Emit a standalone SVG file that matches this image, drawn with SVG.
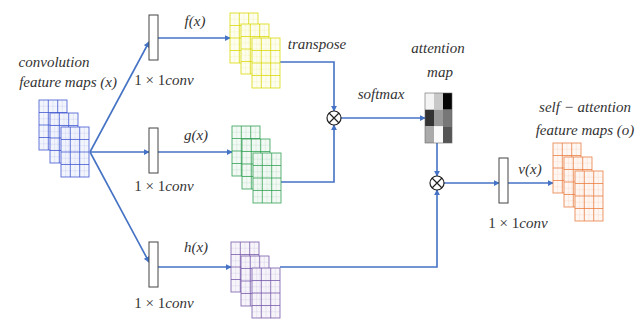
<svg xmlns="http://www.w3.org/2000/svg" xmlns:xlink="http://www.w3.org/1999/xlink" width="638" height="320" viewBox="0 0 638 320">
<style>
text{font-family:"Liberation Serif","DejaVu Serif",serif;font-style:italic;font-size:15px;fill:#333;text-anchor:middle}
.n{font-style:normal}
.ln{fill:none;stroke:#4472C4;stroke-width:1.6}
.box{fill:#fff;stroke:#444;stroke-width:1}
.op{fill:#fff;stroke:#222;stroke-width:1.2}
</style>
<defs>
<marker id="ah" viewBox="0 0 8 8" refX="7" refY="4" markerWidth="6" markerHeight="6" markerUnits="userSpaceOnUse" orient="auto">
<path d="M0,0 L8,4 L0,8 z" fill="#4472C4"/>
</marker>
<g id="sheet">
<rect x="0" y="0" width="28" height="50" fill="#fff" fill-opacity="0.9"/>
<rect x="0" y="0" width="28" height="50" fill="currentColor" fill-opacity="0.06"/>
<g stroke="currentColor" stroke-width="0.5" stroke-opacity="0.2">
<path d="M4.7,0V50M14,0V50M23.3,0V50M0,6.25H28M0,18.75H28M0,31.25H28M0,43.75H28"/>
</g>
<g stroke="currentColor" stroke-width="0.9" fill="none" stroke-opacity="0.85">
<path d="M9.3,0V50M18.7,0V50M0,12.5H28M0,25H28M0,37.5H28"/>
<rect x="0" y="0" width="28" height="50"/>
</g>
</g>
</defs>

<g id="connectors">
<path class="ln" d="M90,152 L149,42" marker-end="url(#ah)"/>
<path class="ln" d="M90,152 L149,152" marker-end="url(#ah)"/>
<path class="ln" d="M90,152 L149,262" marker-end="url(#ah)"/>
<path class="ln" d="M158,38 L230,38" marker-end="url(#ah)"/>
<path class="ln" d="M158,152 L232,152" marker-end="url(#ah)"/>
<path class="ln" d="M158,267 L231,267" marker-end="url(#ah)"/>
<path class="ln" d="M280,62 H334 V111" marker-end="url(#ah)"/>
<path class="ln" d="M281,182 H334 V125" marker-end="url(#ah)"/>
<path class="ln" d="M341,118 H425" marker-end="url(#ah)"/>
<path class="ln" d="M437,143 V176" marker-end="url(#ah)"/>
<path class="ln" d="M280,267 H437 V190" marker-end="url(#ah)"/>
<path class="ln" d="M444,183 H499" marker-end="url(#ah)"/>
<path class="ln" d="M508,183 H553" marker-end="url(#ah)"/>
</g>

<g id="input-maps" style="color:#3a52d0">
<use xlink:href="#sheet" x="39" y="100"/>
<use xlink:href="#sheet" x="50" y="113"/>
<use xlink:href="#sheet" x="61" y="127"/>
<text x="54" y="67">convolution</text>
<text x="68" y="87">feature maps (x)</text>
</g>

<g id="conv-f">
<rect class="box" x="149" y="15" width="9" height="45"/>
<text x="164" y="85"><tspan class="n">1 × 1</tspan>conv</text>
</g>
<g id="conv-g">
<rect class="box" x="149" y="128" width="9" height="45"/>
<text x="164" y="191"><tspan class="n">1 × 1</tspan>conv</text>
</g>
<g id="conv-h">
<rect class="box" x="149" y="242" width="9" height="45"/>
<text x="164" y="308"><tspan class="n">1 × 1</tspan>conv</text>
</g>

<g id="f-maps" style="color:#d8d800">
<text x="195" y="26">f(x)</text>
<use xlink:href="#sheet" x="230" y="13"/>
<use xlink:href="#sheet" x="241" y="24"/>
<use xlink:href="#sheet" x="252" y="38"/>
<text x="317" y="49">transpose</text>
</g>

<g id="g-maps" style="color:#2e9e50">
<text x="196" y="140">g(x)</text>
<use xlink:href="#sheet" x="232" y="126"/>
<use xlink:href="#sheet" x="242" y="139"/>
<use xlink:href="#sheet" x="253" y="153"/>
</g>

<g id="h-maps" style="color:#7356a8">
<text x="196" y="252">h(x)</text>
<use xlink:href="#sheet" x="231" y="242"/>
<use xlink:href="#sheet" x="241" y="256"/>
<use xlink:href="#sheet" x="252" y="268"/>
</g>

<g id="mult1">
<circle class="op" cx="334" cy="118" r="7"/>
<path d="M329,113 L339,123 M339,113 L329,123" stroke="#222" stroke-width="1.2"/>
<text x="381" y="99">softmax</text>
</g>

<g id="attention-map">
<text x="438" y="53">attention</text>
<text x="440" y="77">map</text>
<rect x="425" y="93" width="9" height="16.7" fill="#f4f4f4"/>
<rect x="434" y="93" width="9" height="16.7" fill="#c8c8c8"/>
<rect x="443" y="93" width="9" height="16.7" fill="#050505"/>
<rect x="425" y="109.7" width="9" height="16.7" fill="#333"/>
<rect x="434" y="109.7" width="9" height="16.7" fill="#999"/>
<rect x="443" y="109.7" width="9" height="16.7" fill="#777"/>
<rect x="425" y="126.3" width="9" height="16.7" fill="#aaa"/>
<rect x="434" y="126.3" width="9" height="16.7" fill="#fafafa"/>
<rect x="443" y="126.3" width="9" height="16.7" fill="#555"/>
<rect x="425" y="93" width="27" height="50" fill="none" stroke="#666" stroke-width="0.6"/>
</g>

<g id="mult2">
<circle class="op" cx="437" cy="183" r="7"/>
<path d="M432,178 L442,188 M442,178 L432,188" stroke="#222" stroke-width="1.2"/>
</g>

<g id="conv-v">
<rect class="box" x="499" y="158" width="9" height="45"/>
<text x="530" y="174">v(x)</text>
<text x="518" y="228"><tspan class="n">1 × 1</tspan>conv</text>
</g>

<g id="output-maps" style="color:#e87a3c">
<text x="585" y="112">self − attention</text>
<text x="585" y="135">feature maps (o)</text>
<use xlink:href="#sheet" x="553" y="143"/>
<use xlink:href="#sheet" x="564" y="157"/>
<use xlink:href="#sheet" x="575" y="171"/>
</g>
</svg>
